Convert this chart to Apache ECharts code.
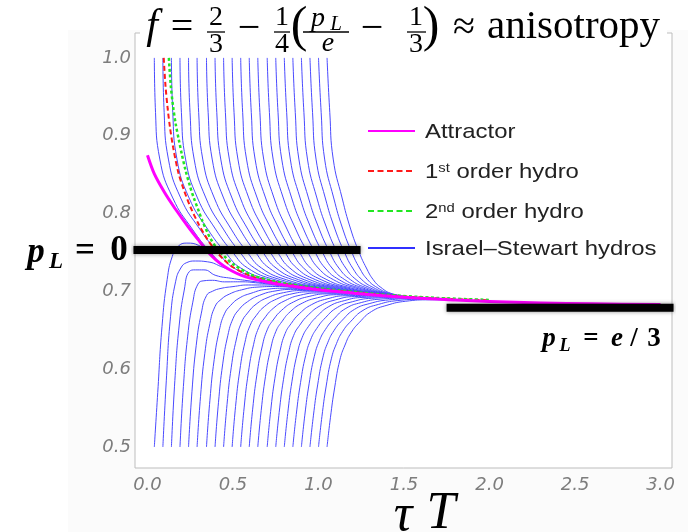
<!DOCTYPE html>
<html>
<head>
<meta charset="utf-8">
<script src="https://cdn.jsdelivr.net/npm/echarts@6/dist/echarts.min.js"></script>
<style>
  html, body { margin: 0; padding: 0; background: #ffffff; }
  #chart { width: 688px; height: 532px; }
</style>
</head>
<body>
<div id="chart"></div>
<script>
// ---- axis extents and tick values ----
const xRange = [-0.073, 3.067];
const yRange = [0.473, 1.032];
const xTicks = [0, 0.5, 1, 1.5, 2, 2.5, 3];
const yTicks = [0.5, 0.6, 0.7, 0.8, 0.9, 1.0];

// ---- attractor f(τT) ----
const attractor = [
  [0.0, 0.875], [0.04, 0.851], [0.1, 0.827], [0.15, 0.81], [0.2, 0.7945], [0.25, 0.7795],
  [0.3, 0.7655], [0.35, 0.7515], [0.4, 0.7405], [0.45, 0.732], [0.5, 0.7255], [0.55, 0.7205],
  [0.6, 0.717], [0.7, 0.712], [0.8, 0.708], [0.9, 0.705], [1.0, 0.702], [1.2, 0.698], [1.4, 0.694],
  [1.6, 0.691], [1.8, 0.689], [2.0, 0.687], [2.3, 0.685], [2.6, 0.684], [3.0, 0.683]
];

// ---- first- and second-order hydrodynamics ----
const firstOrder = [
  [0.095, 1.0], [0.105, 0.965], [0.118, 0.935], [0.132, 0.91], [0.15, 0.885], [0.18, 0.853],
  [0.21, 0.832], [0.25, 0.809], [0.3, 0.786], [0.35, 0.767], [0.4, 0.752], [0.45, 0.74],
  [0.5, 0.731], [0.6, 0.72], [0.7, 0.714], [0.8, 0.7095], [0.9, 0.706], [1.0, 0.703],
  [1.2, 0.699], [1.4, 0.695], [1.7, 0.691], [2.0, 0.6885]
];
const secondOrder = [
  [0.125, 1.0], [0.136, 0.965], [0.15, 0.937], [0.165, 0.915], [0.183, 0.895], [0.2, 0.877],
  [0.222, 0.856], [0.25, 0.834], [0.271, 0.82], [0.3, 0.803], [0.32, 0.791], [0.35, 0.776],
  [0.368, 0.768], [0.4, 0.757], [0.45, 0.745], [0.5, 0.735], [0.6, 0.722], [0.7, 0.715],
  [0.8, 0.7105], [0.9, 0.707], [1.0, 0.704], [1.2, 0.6995], [1.4, 0.6955], [1.7, 0.6915], [2.0, 0.689]
];

// ---- Israel–Stewart runs: initial τT of each run ----
const startTimes = [0.04, 0.09, 0.14, 0.19, 0.24, 0.29, 0.345, 0.395, 0.445, 0.495, 0.545,
                    0.595, 0.645, 0.7, 0.75, 0.8, 0.85, 0.9, 0.95, 1.0, 1.05];

// runs starting at f = 1: τT reached at each level of f
const topLevels = [1.0, 0.93, 0.87, 0.82, 0.78, 0.75, 0.73, 0.715, 0.705, 0.697, 0.692];
const topRunsX = [
  [0.04, 0.047, 0.072, 0.148, 0.262, 0.37, 0.465, 0.645, 0.9, 1.25, 1.53],
  [0.09, 0.0975, 0.1222, 0.1942, 0.3059, 0.4129, 0.5053, 0.6783, 0.9228, 1.2585, 1.5305],
  [0.14, 0.1479, 0.1724, 0.2433, 0.3518, 0.4558, 0.5455, 0.7115, 0.9455, 1.267, 1.531],
  [0.19, 0.1984, 0.2226, 0.2925, 0.3977, 0.4987, 0.5858, 0.7448, 0.9683, 1.2755, 1.5315],
  [0.24, 0.2488, 0.2728, 0.3416, 0.4436, 0.5416, 0.626, 0.778, 0.991, 1.284, 1.532],
  [0.29, 0.2993, 0.323, 0.3908, 0.4895, 0.5845, 0.6663, 0.8113, 1.0138, 1.2925, 1.5325],
  [0.345, 0.3547, 0.3782, 0.4449, 0.5404, 0.6324, 0.7115, 0.8495, 1.0415, 1.306, 1.538],
  [0.395, 0.4052, 0.4284, 0.4941, 0.5863, 0.6753, 0.7518, 0.8828, 1.0643, 1.3145, 1.5385],
  [0.445, 0.4556, 0.4786, 0.5432, 0.6322, 0.7182, 0.792, 0.916, 1.087, 1.323, 1.539],
  [0.495, 0.5061, 0.5288, 0.5924, 0.6781, 0.7611, 0.8323, 0.9493, 1.1098, 1.3315, 1.5395],
  [0.545, 0.5565, 0.579, 0.6415, 0.724, 0.804, 0.8725, 0.9825, 1.1325, 1.34, 1.54],
  [0.595, 0.607, 0.6292, 0.6907, 0.7699, 0.8469, 0.9128, 1.0158, 1.1553, 1.3485, 1.5405],
  [0.645, 0.6574, 0.6794, 0.7398, 0.8158, 0.8898, 0.953, 1.049, 1.178, 1.357, 1.541],
  [0.7, 0.7129, 0.7346, 0.794, 0.8667, 0.9377, 0.9983, 1.0873, 1.2058, 1.3705, 1.5465],
  [0.75, 0.7633, 0.7848, 0.8431, 0.9126, 0.9806, 1.0385, 1.1205, 1.2285, 1.379, 1.547],
  [0.8, 0.8138, 0.835, 0.8923, 0.9585, 1.0235, 1.0788, 1.1538, 1.2513, 1.3875, 1.5475],
  [0.85, 0.8642, 0.8852, 0.9414, 1.0044, 1.0664, 1.119, 1.187, 1.274, 1.396, 1.548],
  [0.9, 0.9147, 0.9354, 0.9906, 1.0503, 1.1093, 1.1593, 1.2203, 1.2968, 1.4045, 1.5485],
  [0.95, 0.9651, 0.9856, 1.0397, 1.0962, 1.1522, 1.1995, 1.2535, 1.3195, 1.413, 1.549],
  [1.0, 1.0156, 1.0358, 1.0889, 1.1421, 1.1951, 1.2398, 1.2868, 1.3423, 1.4215, 1.5495],
  [1.05, 1.066, 1.086, 1.138, 1.188, 1.238, 1.28, 1.32, 1.365, 1.43, 1.55]
];

// runs starting at f = 0.5: f at each τT step after the start
const bottomSteps = [0, 0.02, 0.045, 0.075, 0.105, 0.14, 0.19, 0.26, 0.35, 0.46, 0.6, 0.76];
const bottomRunsY = [
  [0.5, 0.57, 0.655, 0.715, 0.745, 0.758, 0.762, 0.759, 0.7425, 0.7253, 0.7151, 0.708],
  [0.5, 0.585, 0.668, 0.713, 0.73, 0.737, 0.739, 0.738, 0.731, 0.7215, 0.7122, 0.7063],
  [0.5, 0.5853, 0.6555, 0.7017, 0.7255, 0.7276, 0.7276, 0.7204, 0.7168, 0.7133, 0.7093, 0.7047],
  [0.5, 0.5777, 0.6424, 0.6861, 0.7093, 0.7136, 0.7142, 0.7122, 0.7123, 0.7107, 0.7073, 0.7032],
  [0.5, 0.5709, 0.6307, 0.672, 0.6945, 0.7001, 0.7038, 0.7061, 0.7082, 0.7082, 0.7057, 0.7017],
  [0.5, 0.5646, 0.6198, 0.6587, 0.6805, 0.6896, 0.6966, 0.7019, 0.7054, 0.7062, 0.7042, 0.7007],
  [0.5, 0.5601, 0.6122, 0.6497, 0.6711, 0.6817, 0.6911, 0.6975, 0.7026, 0.704, 0.7025, 0.6997],
  [0.5, 0.5569, 0.6068, 0.6435, 0.6649, 0.6766, 0.6867, 0.6949, 0.7004, 0.7025, 0.701, 0.6986],
  [0.5, 0.5544, 0.6025, 0.6387, 0.6602, 0.6721, 0.6835, 0.6922, 0.6983, 0.701, 0.6999, 0.6976],
  [0.5, 0.5521, 0.5988, 0.6346, 0.6562, 0.6687, 0.6807, 0.6901, 0.6968, 0.6994, 0.6989, 0.6966],
  [0.5, 0.5502, 0.5959, 0.6314, 0.6533, 0.6658, 0.6781, 0.6881, 0.6952, 0.6979, 0.6979, 0.6956],
  [0.5, 0.5486, 0.5931, 0.6285, 0.6505, 0.6632, 0.6758, 0.6865, 0.6935, 0.6968, 0.6969, 0.6946],
  [0.5, 0.547, 0.5907, 0.6259, 0.6481, 0.6608, 0.6739, 0.6848, 0.6918, 0.6957, 0.6958, 0.6936],
  [0.5, 0.5456, 0.5884, 0.6234, 0.6459, 0.6586, 0.6716, 0.683, 0.6903, 0.6944, 0.6947, 0.6928],
  [0.5, 0.5443, 0.5864, 0.6214, 0.6435, 0.6565, 0.6696, 0.6815, 0.6891, 0.6933, 0.6937, 0.6921],
  [0.5, 0.5431, 0.5845, 0.6195, 0.641, 0.6545, 0.6676, 0.6804, 0.688, 0.6922, 0.6927, 0.6913],
  [0.5, 0.5419, 0.5827, 0.6176, 0.6385, 0.6524, 0.666, 0.6793, 0.6868, 0.6911, 0.692, 0.6906],
  [0.5, 0.5409, 0.5812, 0.616, 0.6365, 0.6509, 0.6646, 0.6781, 0.6856, 0.69, 0.6912, 0.6901],
  [0.5, 0.54, 0.5797, 0.6146, 0.6346, 0.6494, 0.6631, 0.6768, 0.6844, 0.689, 0.6905, 0.6896],
  [0.5, 0.5391, 0.5784, 0.6133, 0.6328, 0.6481, 0.6617, 0.6755, 0.6832, 0.6881, 0.6897, 0.6891],
  [0.5, 0.5382, 0.577, 0.6119, 0.631, 0.6467, 0.6603, 0.6741, 0.6821, 0.6873, 0.6891, 0.6887]
];

// ---- reference levels: free streaming (p_L = 0) and isotropy (p_L = e/3) ----
const freeStreamingMark = [[-0.082, 0.753], [1.246, 0.753]];
const isotropicMark = [[1.749, 0.679], [3.076, 0.679]];

// ---------------------------------------------------------------------------
const chart = echarts.init(document.getElementById('chart'), null, { renderer: 'canvas' });

const BLUE = '#4a4aff';
const series = [];

topRunsX.forEach(function (xs) {
  series.push({
    type: 'line', name: 'Israel–Stewart hydros', showSymbol: false, symbol: 'none',
    smooth: 0.5, silent: true, z: 2,
    lineStyle: { color: BLUE, width: 1 },
    data: xs.map(function (x, i) { return [x, topLevels[i]]; })
  });
});
bottomRunsY.forEach(function (ys, k) {
  series.push({
    type: 'line', name: 'Israel–Stewart hydros', showSymbol: false, symbol: 'none',
    smooth: 0.5, silent: true, z: 2,
    lineStyle: { color: BLUE, width: 1 },
    data: ys.map(function (y, i) { return [startTimes[k] + bottomSteps[i], y]; })
  });
});
series.push({
  type: 'line', name: '1st order hydro', symbol: 'none', smooth: 0.3, silent: true, z: 4,
  lineStyle: { color: '#ff1a1a', width: 2, type: [5, 3] }, data: firstOrder
});
series.push({
  type: 'line', name: '2nd order hydro', symbol: 'none', smooth: 0.3, silent: true, z: 4,
  lineStyle: { color: '#22e622', width: 2.5, type: [3, 2.5] }, data: secondOrder
});
series.push({
  type: 'line', name: 'Attractor', symbol: 'none', smooth: 0.3, silent: true, z: 5,
  lineStyle: { color: '#ff00ff', width: 3, join: 'round' }, data: attractor
});
[freeStreamingMark, isotropicMark].forEach(function (d) {
  series.push({
    type: 'line', symbol: 'none', silent: true, clip: false, z: 6,
    lineStyle: { color: '#000', width: 8, cap: 'butt', shadowBlur: 4, shadowColor: 'rgba(0,0,0,0.45)' },
    data: d
  });
});

// ---- text helpers for the typeset labels ----
function t(x, y, s, font, extra) {
  return { type: 'text', x: x, y: y, z: 20,
    style: Object.assign({ text: s, font: font, fill: '#000', align: 'center', verticalAlign: 'middle' }, extra || {}) };
}
function bar(x1, x2, y) {
  return { type: 'line', z: 20, shape: { x1: x1, y1: y, x2: x2, y2: y }, style: { stroke: '#000', lineWidth: 1.3 } };
}
const SERIF = '"Liberation Serif", "DejaVu Serif", serif';
const big = '40px ' + SERIF, bigI = 'italic 42px ' + SERIF;
const fr = '28px ' + SERIF, frI = 'italic 28px ' + SERIF;

const graphics = [
  { type: 'rect', z: -5, shape: { x: 68, y: 30, width: 620, height: 502 }, style: { fill: '#fbfbfb' } },
  { type: 'rect', z: 15, shape: { x: 140, y: 0, width: 527, height: 55 }, style: { fill: '#ffffff' } },
  // title: f = 2/3 − 1/4 (p_L/e − 1/3) ≈ anisotropy
  t(152, 27, 'f', bigI),
  t(182, 28, '=', big),
  t(216, 18, '2', fr), bar(207, 225, 32), t(216, 45, '3', fr),
  t(249, 29, '\u2212', big),
  t(282, 18, '1', fr), bar(274, 290, 32), t(282, 45, '4', fr),
  t(299, 28, '(', '50px ' + SERIF),
  t(318, 19, 'p', frI), t(336, 24, 'L', 'italic 21px ' + SERIF), bar(303, 349, 32), t(328, 44, 'e', frI),
  t(372, 29, '\u2212', big),
  t(416, 18, '1', fr), bar(407, 426, 32), t(416, 45, '3', fr),
  t(431, 28, ')', '50px ' + SERIF),
  t(464, 28, '\u2248', big),
  t(487, 27, 'anisotropy', '41px ' + SERIF, { align: 'left' }),
  // horizontal axis title
  t(403, 516, '\u03c4', 'italic 52px ' + SERIF),
  t(441, 514, 'T', 'italic 52px ' + SERIF),
  // p_L = 0
  t(36, 253, 'p', 'bold italic 35px ' + SERIF),
  t(56, 262, 'L', 'bold italic 23px ' + SERIF),
  t(85, 252, '=', 'bold 35px ' + SERIF),
  t(119, 251, '0', 'bold 35px ' + SERIF),
  // p_L = e/3
  t(549, 339, 'p', 'bold italic 27px ' + SERIF),
  t(565, 346, 'L', 'bold italic 18px ' + SERIF),
  t(591, 339, '=', 'bold 27px ' + SERIF),
  t(617, 339, 'e', 'bold italic 27px ' + SERIF),
  t(634, 339, '/', 'bold 27px ' + SERIF),
  t(654, 339, '3', 'bold 27px ' + SERIF)
];

// ---- legend ----
const LEG_FONT = '21px "Liberation Sans", Arial, sans-serif';
const legendRows = [
  { y: 131, color: '#ff00ff', width: 2, dash: null, text: 'Attractor' },
  { y: 171, color: '#ff1a1a', width: 2, dash: [6, 3.5], text: '1{sup|st} order hydro' },
  { y: 211, color: '#22e622', width: 2, dash: [6, 3.5], text: '2{sup|nd} order hydro' },
  { y: 248, color: '#3030ff', width: 2, dash: null, text: 'Israel\u2013Stewart hydros' }
];
legendRows.forEach(function (r) {
  graphics.push({ type: 'line', z: 20, shape: { x1: 368, y1: r.y, x2: 415, y2: r.y },
    style: { stroke: r.color, lineWidth: r.width, lineDash: r.dash } });
  graphics.push({ type: 'text', x: 425, y: r.y + 1, z: 20, scaleX: 1.14,
    style: { text: r.text, font: LEG_FONT, fill: '#222', align: 'left', verticalAlign: 'middle',
      rich: { sup: { fontSize: 13, fontFamily: 'Liberation Sans', fill: '#222', verticalAlign: 'top', lineHeight: 13 } } } });
});

const tickLabel = {
  color: '#7d7d7d', fontFamily: 'DejaVu Sans', fontStyle: 'italic', fontSize: 18,
  formatter: function (v) { return Number(v).toFixed(1); }
};

chart.setOption({
  animation: false,
  backgroundColor: '#ffffff',
  grid: { left: 135, right: 16, top: 33, bottom: 64, show: true, borderColor: '#bdbdbd', borderWidth: 1,
          backgroundColor: '#ffffff', containLabel: false, outerBoundsMode: 'none' },
  xAxis: {
    type: 'value', min: xRange[0], max: xRange[1],
    axisLine: { show: false }, axisTick: { show: false }, splitLine: { show: false },
    axisLabel: Object.assign({ customValues: xTicks, margin: 8 }, tickLabel)
  },
  yAxis: {
    type: 'value', min: yRange[0], max: yRange[1],
    axisLine: { show: false }, axisTick: { show: false }, splitLine: { show: false },
    axisLabel: Object.assign({ customValues: yTicks, margin: 4 }, tickLabel)
  },
  series: series,
  graphic: graphics
});
</script>
</body>
</html>
